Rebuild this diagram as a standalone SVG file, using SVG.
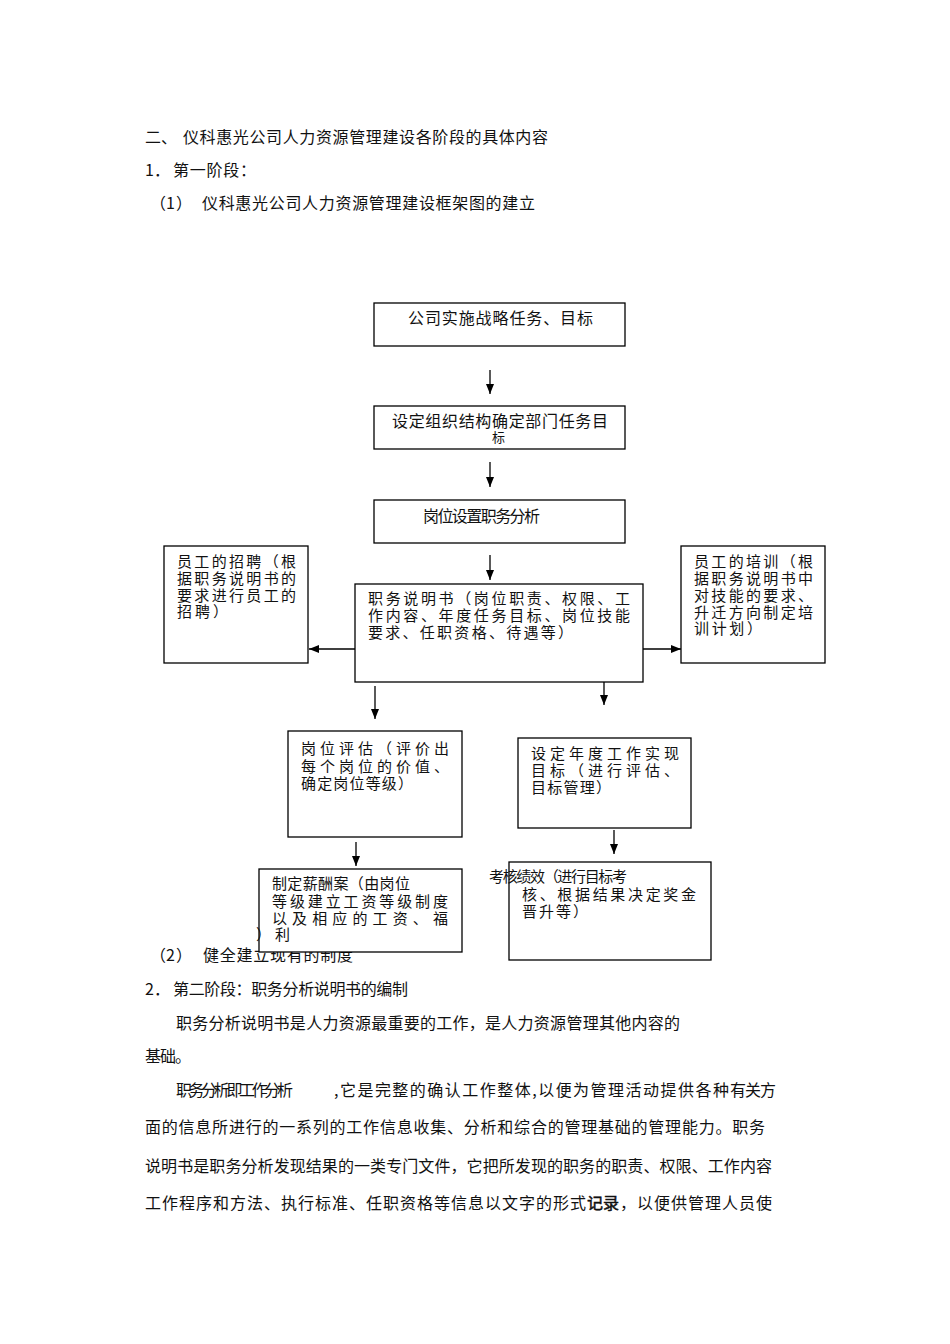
<svg xmlns="http://www.w3.org/2000/svg" width="950" height="1344" viewBox="0 0 950 1344">
<style>
.t{font-family:"Noto Sans CJK SC","Noto Sans",sans-serif;font-size:16px;fill:#111;font-variant-ligatures:none;font-feature-settings:"liga" 0,"dlig" 0,"clig" 0;}
.b{font-size:15px;}
.s{font-size:13px;}
.k{stroke:#111;stroke-width:0.5;}
.box{fill:#fff;stroke:#000;stroke-width:1.3;}
.c{stroke:#000;stroke-width:1.3;fill:none;marker-end:url(#ah);}
</style>
<defs>
<marker id="ah" markerUnits="userSpaceOnUse" markerWidth="10" markerHeight="10" refX="10" refY="4" orient="auto">
<path d="M0,0 L10,4 L0,8 z" fill="#000"/>
</marker>
</defs>
<rect width="950" height="1344" fill="#fff"/>

<g id="header">
<text class="t" x="145" y="143">二、</text>
<text class="t" x="183" y="143" textLength="365" lengthAdjust="spacing">仪科惠光公司人力资源管理建设各阶段的具体内容</text>
<text class="t" x="145" y="176">1．</text>
<text class="t" x="173" y="176" textLength="83" lengthAdjust="spacing">第一阶段：</text>
<text class="t" x="150" y="209"><tspan x="150">（</tspan><tspan x="166" dx="0">1</tspan><tspan x="176">）</tspan></text>
<text class="t" x="202" y="209" textLength="333" lengthAdjust="spacing">仪科惠光公司人力资源管理建设框架图的建立</text>
<text class="t" x="150" y="961"><tspan x="150">（</tspan><tspan x="166">2</tspan><tspan x="176">）</tspan></text>
<text class="t" x="203" y="961" textLength="150" lengthAdjust="spacing">健全建立现有的制度</text>
</g>

<g id="connectors">
<line class="c" x1="490" y1="370" x2="490" y2="394"/>
<line class="c" x1="490" y1="462" x2="490" y2="487"/>
<line class="c" x1="490" y1="555" x2="490" y2="580"/>
<line class="c" x1="355" y1="649" x2="309" y2="649"/>
<line class="c" x1="643" y1="649" x2="681" y2="649"/>
<line class="c" x1="375" y1="686" x2="375" y2="719"/>
<line class="c" x1="604" y1="672" x2="604" y2="705"/>
<line class="c" x1="356" y1="842" x2="356" y2="866"/>
<line class="c" x1="614" y1="830" x2="614" y2="854"/>
</g>

<g id="n1">
<rect class="box" x="374" y="303" width="251" height="43"/>
<text class="t" x="408" y="324" textLength="185" lengthAdjust="spacing">公司实施战略任务、目标</text>
</g>
<g id="n2">
<rect class="box" x="374" y="406" width="251" height="43"/>
<text class="t" x="392" y="427" textLength="216" lengthAdjust="spacing">设定组织结构确定部门任务目</text>
<text class="t s" x="492" y="442">标</text>
</g>
<g id="n3">
<rect class="box" x="374" y="500" width="251" height="43"/>
<text class="t" x="423" y="522" textLength="117" lengthAdjust="spacing">岗位设置职务分析</text>
</g>
<g id="n4">
<rect class="box" x="355" y="584" width="288" height="98"/>
<text class="t b" x="368" y="604" textLength="262" lengthAdjust="spacing">职务说明书（岗位职责、权限、工</text>
<text class="t b" x="368" y="621" textLength="262" lengthAdjust="spacing">作内容、年度任务目标、岗位技能</text>
<text class="t b" x="368" y="638" textLength="205" lengthAdjust="spacing">要求、任职资格、待遇等）</text>
</g>
<g id="n5">
<rect class="box" x="164" y="546" width="144" height="117"/>
<text class="t b" x="177" y="567" textLength="119" lengthAdjust="spacing">员工的招聘（根</text>
<text class="t b" x="177" y="584" textLength="119" lengthAdjust="spacing">据职务说明书的</text>
<text class="t b" x="177" y="601" textLength="119" lengthAdjust="spacing">要求进行员工的</text>
<text class="t b" x="177" y="617" textLength="51" lengthAdjust="spacing">招聘）</text>
</g>
<g id="n6">
<rect class="box" x="681" y="546" width="144" height="117"/>
<text class="t b" x="694" y="567" textLength="119" lengthAdjust="spacing">员工的培训（根</text>
<text class="t b" x="694" y="584" textLength="119" lengthAdjust="spacing">据职务说明书中</text>
<text class="t b" x="694" y="601" textLength="119" lengthAdjust="spacing">对技能的要求、</text>
<text class="t b" x="694" y="618" textLength="119" lengthAdjust="spacing">升迁方向制定培</text>
<text class="t b" x="694" y="634" textLength="68" lengthAdjust="spacing">训计划）</text>
</g>
<g id="n7">
<rect class="box" x="288" y="731" width="174" height="106"/>
<text class="t b" x="301" y="754" textLength="148" lengthAdjust="spacing">岗位评估（评价出</text>
<text class="t b" x="301" y="772" textLength="148" lengthAdjust="spacing">每个岗位的价值、</text>
<text class="t b" x="301" y="789" textLength="112" lengthAdjust="spacing">确定岗位等级）</text>
</g>
<g id="n8">
<rect class="box" x="518" y="738" width="173" height="90"/>
<text class="t b" x="531" y="759" textLength="148" lengthAdjust="spacing">设定年度工作实现</text>
<text class="t b" x="531" y="776" textLength="148" lengthAdjust="spacing">目标（进行评估、</text>
<text class="t b" x="531" y="793" textLength="80" lengthAdjust="spacing">目标管理）</text>
</g>
<g id="n9">
<rect class="box" x="259" y="869" width="203" height="83"/>
<text class="t b" x="272" y="889" textLength="138" lengthAdjust="spacing">制定薪酬案（由岗位</text>
<text class="t b" x="272" y="907" textLength="176" lengthAdjust="spacing">等级建立工资等级制度</text>
<text class="t b" x="272" y="924" textLength="176" lengthAdjust="spacing">以及相应的工资、福</text>
<text class="t b" x="256" y="940" textLength="34" lengthAdjust="spacing">）利</text>
</g>
<g id="n10">
<rect class="box" x="509" y="862" width="202" height="98"/>
<text class="t b" x="489" y="882" textLength="138" lengthAdjust="spacing">考核绩效（进行目标考</text>
<text class="t b" x="522" y="900" textLength="174" lengthAdjust="spacing">核、根据结果决定奖金</text>
<text class="t b" x="522" y="917" textLength="66" lengthAdjust="spacing">晋升等）</text>
</g>

<g id="body">
<text class="t" x="145" y="995">2．</text>
<text class="t" x="173" y="995" textLength="235" lengthAdjust="spacing">第二阶段：职务分析说明书的编制</text>

<text class="t" x="176" y="1029" textLength="504" lengthAdjust="spacing">职务分析说明书是人力资源最重要的工作，是人力资源管理其他内容的</text>

<text class="t" x="145" y="1062" textLength="46" lengthAdjust="spacing">基础。</text>

<text class="t" x="176" y="1096" textLength="117" lengthAdjust="spacing">职务分析即工作分析</text>
<text class="t" x="334" y="1096" textLength="395" lengthAdjust="spacing">,它是完整的确认工作整体,以便为管理活动提供各种</text>
<text class="t" x="730" y="1096" textLength="46" lengthAdjust="spacing">有关方</text>

<text class="t" x="145" y="1133" textLength="620" lengthAdjust="spacing">面的信息所进行的一系列的工作信息收集、分析和综合的管理基础的管理能力。职务</text>

<text class="t" x="145" y="1172" textLength="627" lengthAdjust="spacing">说明书是职务分析发现结果的一类专门文件，它把所发现的职务的职责、权限、工作内容</text>

<text class="t" x="145" y="1209" textLength="441" lengthAdjust="spacing">工作程序和方法、执行标准、任职资格等信息以文字的形式</text>
<text class="t k" x="587" y="1209" textLength="32" lengthAdjust="spacing">记录</text>
<text class="t" x="620" y="1209" textLength="152" lengthAdjust="spacing">，以便供管理人员使</text>
</g>
</svg>
